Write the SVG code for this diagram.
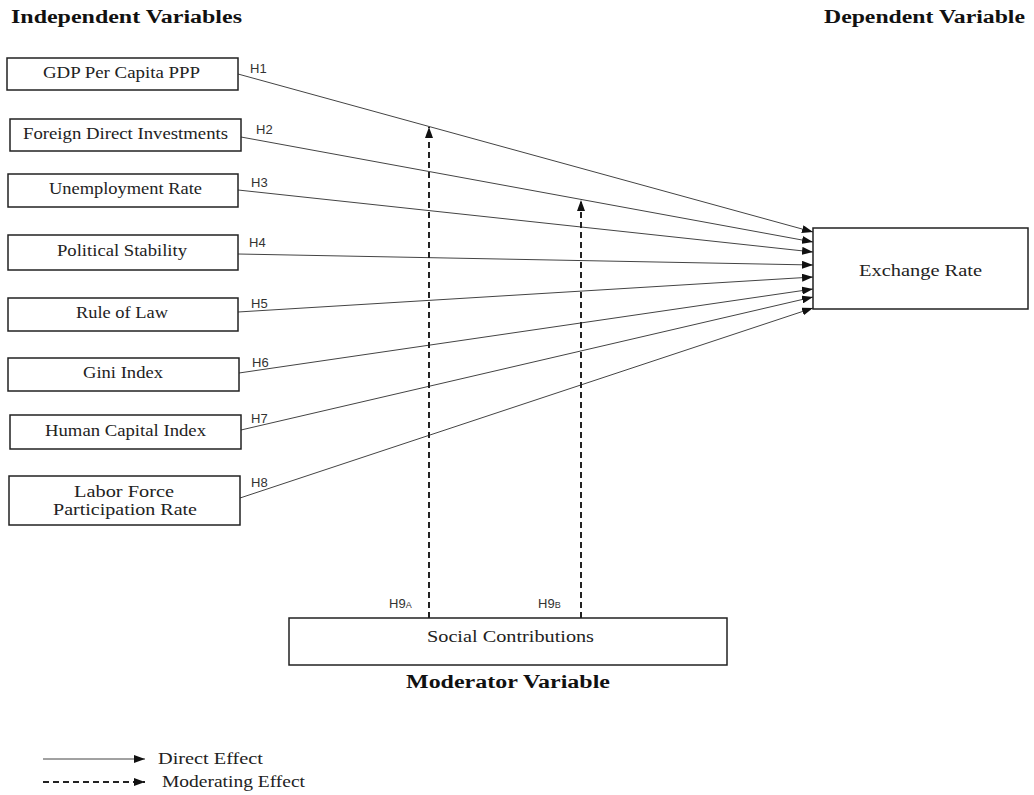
<svg xmlns="http://www.w3.org/2000/svg" width="1034" height="795" viewBox="0 0 1034 795">
<defs>
<style>
.box{fill:#fff;stroke:#222;stroke-width:1.5}
.t{font-family:"Liberation Serif","Times New Roman",serif;font-size:17px;fill:#222}
.hd{font-family:"Liberation Serif","Times New Roman",serif;font-size:18px;font-weight:bold;fill:#111}
.h{font-family:"Liberation Sans",Arial,sans-serif;font-size:13px;fill:#333}
.sub{font-size:9px}
.ln{stroke:#444;stroke-width:1;fill:none}
.ds{stroke:#222;stroke-width:2;fill:none;stroke-dasharray:6 4}
</style>
<marker id="ah" markerUnits="userSpaceOnUse" markerWidth="11" markerHeight="8" refX="11" refY="4" orient="auto">
<path d="M0,0 L11,4 L0,8 Z" fill="#111"/>
</marker>
</defs>
<rect width="1034" height="795" fill="#fff"/>

<text class="hd" x="11" y="23" textLength="231" lengthAdjust="spacingAndGlyphs">Independent Variables</text>
<text class="hd" x="824" y="23" textLength="201" lengthAdjust="spacingAndGlyphs">Dependent Variable</text>

<g id="connectors">
<line class="ln" x1="238" y1="74" x2="813" y2="232" marker-end="url(#ah)"/>
<line class="ln" x1="241" y1="137" x2="813" y2="242" marker-end="url(#ah)"/>
<line class="ln" x1="238" y1="190" x2="813" y2="252" marker-end="url(#ah)"/>
<line class="ln" x1="238" y1="254" x2="813" y2="265" marker-end="url(#ah)"/>
<line class="ln" x1="238" y1="312" x2="813" y2="277" marker-end="url(#ah)"/>
<line class="ln" x1="239" y1="373" x2="813" y2="289" marker-end="url(#ah)"/>
<line class="ln" x1="241" y1="430" x2="813" y2="297" marker-end="url(#ah)"/>
<line class="ln" x1="240" y1="498" x2="813" y2="308" marker-end="url(#ah)"/>
<line class="ds" x1="429" y1="618" x2="429" y2="127" marker-end="url(#ah)"/>
<line class="ds" x1="581" y1="618" x2="581" y2="200" marker-end="url(#ah)"/>
<text class="h" x="250" y="73">H1</text>
<text class="h" x="256" y="134">H2</text>
<text class="h" x="251" y="187">H3</text>
<text class="h" x="249" y="247">H4</text>
<text class="h" x="251" y="308">H5</text>
<text class="h" x="252" y="367">H6</text>
<text class="h" x="251" y="423">H7</text>
<text class="h" x="251" y="487">H8</text>
<text class="h" x="389" y="608">H9<tspan class="sub">A</tspan></text>
<text class="h" x="538" y="608">H9<tspan class="sub">B</tspan></text>
</g>

<g id="gdp"><rect class="box" x="7" y="58" width="231" height="32"/><text class="t" x="43" y="78" textLength="157" lengthAdjust="spacingAndGlyphs">GDP Per Capita PPP</text></g>
<g id="fdi"><rect class="box" x="10" y="119" width="231" height="32"/><text class="t" x="23" y="139" textLength="205" lengthAdjust="spacingAndGlyphs">Foreign Direct Investments</text></g>
<g id="unemployment"><rect class="box" x="8" y="174" width="230" height="33"/><text class="t" x="49" y="194" textLength="153" lengthAdjust="spacingAndGlyphs">Unemployment Rate</text></g>
<g id="political"><rect class="box" x="8" y="235" width="230" height="35"/><text class="t" x="57" y="256" textLength="130" lengthAdjust="spacingAndGlyphs">Political Stability</text></g>
<g id="rule"><rect class="box" x="8" y="298" width="230" height="33"/><text class="t" x="76" y="318" textLength="92" lengthAdjust="spacingAndGlyphs">Rule of Law</text></g>
<g id="gini"><rect class="box" x="8" y="358" width="231" height="33"/><text class="t" x="83" y="378" textLength="80" lengthAdjust="spacingAndGlyphs">Gini Index</text></g>
<g id="hci"><rect class="box" x="10" y="415" width="231" height="34"/><text class="t" x="45" y="436" textLength="161" lengthAdjust="spacingAndGlyphs">Human Capital Index</text></g>
<g id="lfpr"><rect class="box" x="9" y="476" width="231" height="49"/><text class="t" x="74" y="497" textLength="100" lengthAdjust="spacingAndGlyphs">Labor Force</text><text class="t" x="53" y="515" textLength="144" lengthAdjust="spacingAndGlyphs">Participation Rate</text></g>

<g id="exchange"><rect class="box" x="813" y="228" width="215" height="81"/><text class="t" x="859" y="276" textLength="123" lengthAdjust="spacingAndGlyphs">Exchange Rate</text></g>

<g id="social"><rect class="box" x="289" y="618" width="438" height="47"/><text class="t" x="427" y="642" textLength="167" lengthAdjust="spacingAndGlyphs">Social Contributions</text></g>
<text class="hd" x="406" y="688" textLength="204" lengthAdjust="spacingAndGlyphs">Moderator Variable</text>

<g id="legend">
<line class="ln" x1="43" y1="759" x2="145" y2="759" marker-end="url(#ah)"/>
<text class="t" x="158" y="764" textLength="105" lengthAdjust="spacingAndGlyphs">Direct Effect</text>
<line class="ds" x1="43" y1="782" x2="145" y2="782" stroke-width="1.5" marker-end="url(#ah)"/>
<text class="t" x="162" y="787" textLength="143" lengthAdjust="spacingAndGlyphs">Moderating Effect</text>
</g>
</svg>
